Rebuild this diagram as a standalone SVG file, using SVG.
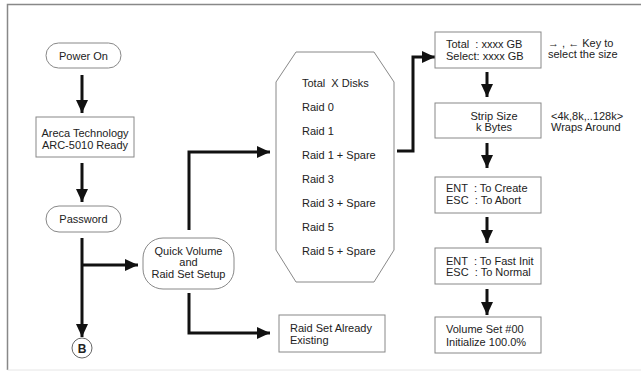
<svg xmlns="http://www.w3.org/2000/svg" width="641" height="371" viewBox="0 0 641 371">
<style>
text{font-family:"Liberation Sans",Arial,sans-serif;font-size:11px;fill:#222;}
.c{text-anchor:middle;}
.box{fill:#fff;stroke:#888;stroke-width:1;}
.con{fill:none;stroke:#111;stroke-width:3;marker-end:url(#ah);}
</style>
<defs>
<marker id="ah" markerUnits="userSpaceOnUse" markerWidth="13" markerHeight="12" refX="13" refY="6" orient="auto">
<path d="M0,0 L13,6 L0,12 z" fill="#111"/>
</marker>
</defs>
<rect width="641" height="371" fill="#fff"/>
<path d="M641,4.5 H7.5 V370" fill="none" stroke="#888" stroke-width="1.5"/>
<line x1="7.5" y1="370" x2="641" y2="370" stroke="#e6e6e6" stroke-width="1"/>

<g id="connectors">
<path class="con" d="M82,75 V113"/>
<path class="con" d="M82,163 V202"/>
<path class="con" d="M82,238 V337"/>
<path class="con" d="M82,265 H138"/>
<path class="con" d="M189,230 V152 H270"/>
<path class="con" d="M189,293 V333 H270"/>
<path class="con" d="M397,151 H413 V57 H435"/>
<path class="con" d="M487,72 V97"/>
<path class="con" d="M487,143 V168"/>
<path class="con" d="M487,217 V243"/>
<path class="con" d="M487,289 V315"/>
</g>

<g id="power-on">
<rect class="box" x="46" y="43" width="75" height="25" rx="12.5"/>
<text class="c" x="83.5" y="59.5">Power On</text>
</g>
<g id="areca">
<rect class="box" x="36" y="117" width="98" height="40"/>
<text class="c" x="85" y="137">Areca Technology</text>
<text class="c" x="85" y="149">ARC-5010 Ready</text>
</g>
<g id="password">
<rect class="box" x="46" y="206" width="75" height="26" rx="13"/>
<text class="c" x="83.5" y="223">Password</text>
</g>
<g id="b">
<circle cx="82" cy="348" r="10" fill="#fff" stroke="#666" stroke-width="1"/>
<text class="c" x="82" y="352.5" style="font-weight:bold;font-size:12px">B</text>
</g>
<g id="quick">
<rect class="box" x="143" y="238" width="91" height="51" rx="20"/>
<text class="c" x="188.5" y="254.5">Quick Volume</text>
<text class="c" x="188.5" y="265.5">and</text>
<text class="c" x="188.5" y="278">Raid Set Setup</text>
</g>
<g id="raid-list">
<polygon class="box" points="296,52 374,52 394,82 394,250 374,282 296,282 276,250 276,82"/>
<text x="302" y="87" xml:space="preserve">Total  X Disks</text>
<text x="302" y="111">Raid 0</text>
<text x="302" y="135">Raid 1</text>
<text x="302" y="159">Raid 1 + Spare</text>
<text x="302" y="183">Raid 3</text>
<text x="302" y="207">Raid 3 + Spare</text>
<text x="302" y="231">Raid 5</text>
<text x="302" y="255">Raid 5 + Spare</text>
</g>
<g id="existing">
<rect class="box" x="279" y="315" width="106" height="37"/>
<text x="290" y="332">Raid Set Already</text>
<text x="290" y="343.5">Existing</text>
</g>
<g id="total">
<rect class="box" x="435" y="32" width="106" height="36"/>
<text x="446" y="48" xml:space="preserve">Total  : xxxx GB</text>
<text x="446" y="60">Select: xxxx GB</text>
</g>
<text x="548" y="46.5">→ , ← Key to</text>
<text x="548" y="58">select the size</text>
<g id="strip">
<rect class="box" x="435" y="103" width="106" height="35"/>
<text class="c" x="494" y="119.5">Strip Size</text>
<text class="c" x="494" y="131">k Bytes</text>
</g>
<text x="551" y="119.5">&lt;4k,8k,..128k&gt;</text>
<text x="551" y="131">Wraps Around</text>
<g id="create">
<rect class="box" x="435" y="177" width="106" height="36"/>
<text x="446" y="192" xml:space="preserve">ENT  : To Create</text>
<text x="446" y="204" xml:space="preserve">ESC  : To Abort</text>
</g>
<g id="fastinit">
<rect class="box" x="435" y="248" width="106" height="36"/>
<text x="446" y="265" xml:space="preserve">ENT  : To Fast Init</text>
<text x="446" y="276" xml:space="preserve">ESC  : To Normal</text>
</g>
<g id="volume">
<rect class="box" x="435" y="317" width="106" height="36"/>
<text x="446" y="333">Volume Set #00</text>
<text x="446" y="346">Initialize 100.0%</text>
</g>
</svg>
